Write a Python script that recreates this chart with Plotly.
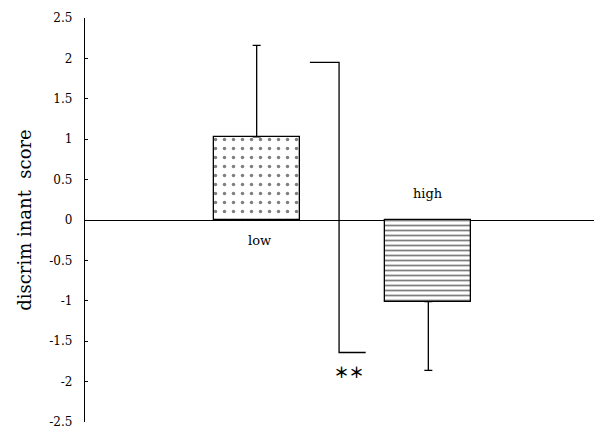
import plotly.graph_objects as go

categories = ["low", "high"]
cat_x = [1, 2]
means = [1.03, -1.01]
err_plus = [1.13, 0.0]
err_minus = [0.0, 0.85]
patterns = [".", "-"]

bracket_x = [1.31, 1.48, 1.48, 1.635]
bracket_y = [1.95, 1.95, -1.64, -1.64]
sig_label = "＊＊"

ytick_vals = [2.5, 2, 1.5, 1, 0.5, 0, -0.5, -1, -1.5, -2, -2.5]
ytick_text = ["2.5", "2", "1.5", "1", "0.5", "0", "-0.5", "-1", "-1.5", "-2", "-2.5"]

FONT = "DejaVu Serif"

fig = go.Figure()
for i in range(2):
    fig.add_trace(go.Bar(
        x=[cat_x[i]], y=[means[i]], width=0.5,
        marker=dict(color="white", line=dict(color="black", width=1.3),
                    pattern=dict(shape=patterns[i], fgcolor="black", bgcolor="white",
                                 size=9 if i == 0 else 5, solidity=0.12 if i == 0 else 0.35)),
        error_y=dict(type="data", symmetric=False, array=[err_plus[i]],
                     arrayminus=[err_minus[i]], color="black", thickness=1.3, width=4),
        showlegend=False,
    ))

fig.add_trace(go.Scatter(x=bracket_x, y=bracket_y, mode="lines",
                         line=dict(color="black", width=1.3), showlegend=False,
                         hoverinfo="skip"))

# category labels
fig.add_annotation(x=cat_x[0], y=0, text=categories[0], showarrow=False,
                   yanchor="top", yshift=-11, xshift=3,
                   font=dict(family=FONT, size=13, color="black"))
fig.add_annotation(x=cat_x[1], y=0, text=categories[1], showarrow=False,
                   yanchor="bottom", yshift=17,
                   font=dict(family=FONT, size=13, color="black"))
fig.add_annotation(x=(bracket_x[2] + bracket_x[3]) / 2, y=bracket_y[3], text=sig_label,
                   showarrow=False, yanchor="top", yshift=-6, xshift=-3,
                   font=dict(family="Noto Sans CJK JP", size=15, color="black",
                             weight="bold"))

# small end tick at the right end of the zero axis
fig.add_shape(type="line", xref="paper", yref="y", x0=1, x1=1, y0=0, y1=0.05,
              line=dict(color="black", width=1))

# page body has an 8px margin, so the figure is sized to fill the rest of the window
fig.update_layout(
    width=594, height=424,
    margin=dict(l=77, r=2, t=10, b=10),
    paper_bgcolor="white", plot_bgcolor="white",
    font=dict(family=FONT, size=12, color="black"),
    bargap=0,
)
fig.update_xaxes(range=[0, 3], showgrid=False, showticklabels=False, ticks="",
                 showline=False, zeroline=False, automargin=False)
fig.update_yaxes(range=[-2.5, 2.5], tickvals=ytick_vals, ticktext=ytick_text,
                 ticks="inside", ticklen=3, tickcolor="black", tickwidth=1,
                 showline=True, linecolor="black", linewidth=1.3,
                 showgrid=False, zeroline=True, zerolinecolor="black", zerolinewidth=1.3,
                 ticklabelstandoff=9, automargin=False,
                 title=dict(text="discrim inant  score", font=dict(family=FONT, size=18),
                            standoff=13))

fig.write_html("out.html")
